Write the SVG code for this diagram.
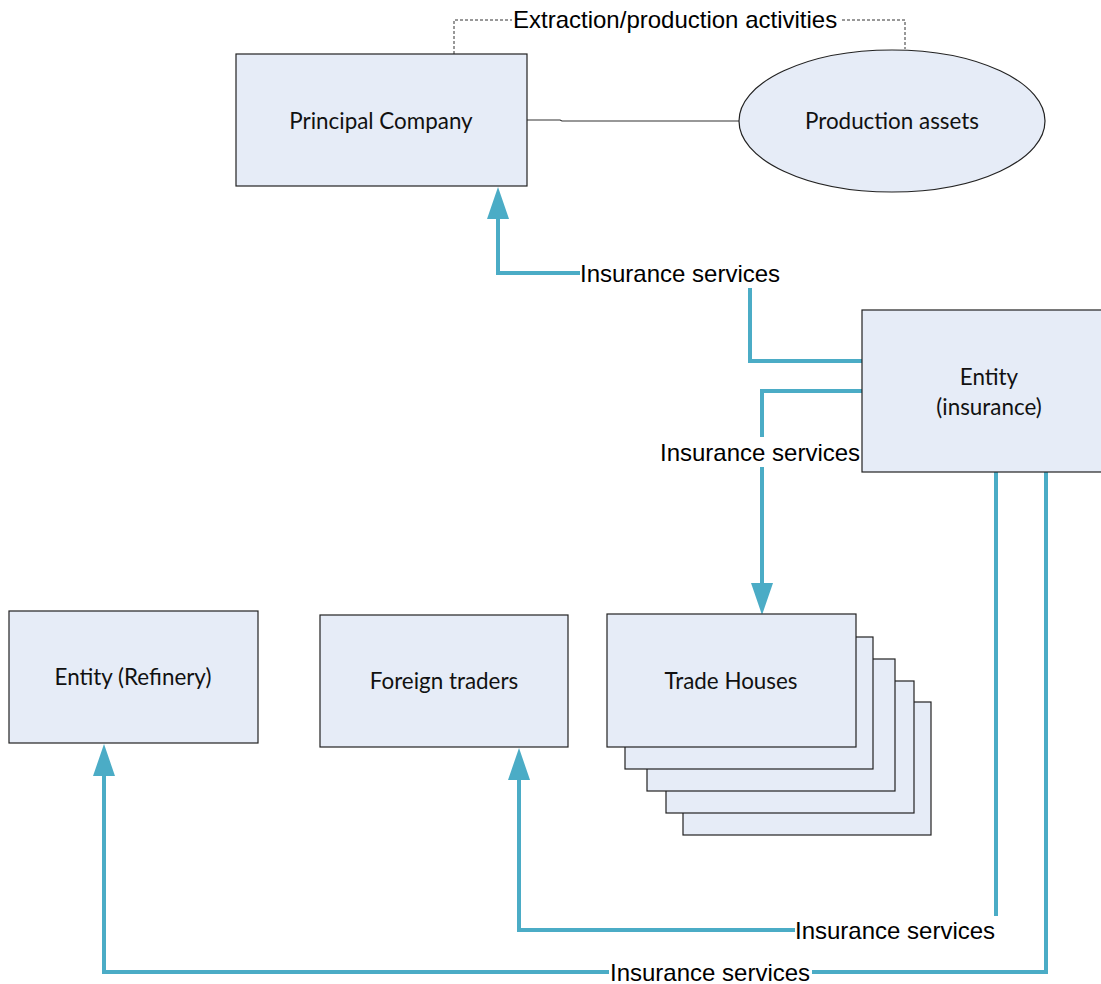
<svg xmlns="http://www.w3.org/2000/svg" width="1101" height="984" viewBox="0 0 1101 984">
<style>
.box{fill:#E6ECF7;stroke:#222;stroke-width:1.2}
.node{font-family:Lato,"Open Sans",sans-serif;font-size:22.4px;fill:#111;text-anchor:middle;dominant-baseline:central}
.lbl{font-family:"Liberation Sans",Arial,sans-serif;font-size:24px;fill:#000;dominant-baseline:central}
.conn{fill:none;stroke:#4BACC6;stroke-width:4;stroke-linejoin:miter}
.thin{fill:none;stroke:#333;stroke-width:1.2}
.dash{fill:none;stroke:#333;stroke-width:1;stroke-dasharray:3 2}
</style>
<defs>
<marker id="arr" viewBox="0 0 32 22" refX="0" refY="11" markerWidth="32" markerHeight="22" markerUnits="userSpaceOnUse" orient="auto">
<path d="M0,0 L32,11 L0,22 z" fill="#4BACC6"/>
</marker>
</defs>
<rect width="1101" height="984" fill="#fff"/>
<g id="connectors">
<path class="dash" d="M454,54 V20 H512"/>
<path class="dash" d="M842,20 H905 V49"/>
<text class="lbl" x="513" y="19">Extraction/production activities</text>
<path class="thin" d="M527,120 H560 L562,121 H739"/>
<path class="conn" d="M862,361 H750 V288"/>
<path class="conn" d="M580,273 H498 V219" marker-end="url(#arr)"/>
<text class="lbl" x="580" y="273">Insurance services</text>
<path class="conn" d="M862,391 H762 V437"/>
<path class="conn" d="M762,467 V583" marker-end="url(#arr)"/>
<text class="lbl" x="660" y="452">Insurance services</text>
<path class="conn" d="M996,472 V916"/>
<path class="conn" d="M795,930 H519 V780" marker-end="url(#arr)"/>
<text class="lbl" x="795" y="930">Insurance services</text>
<path class="conn" d="M1046,472 V972 H812"/>
<path class="conn" d="M609,972 H104 V776" marker-end="url(#arr)"/>
<text class="lbl" x="610" y="972">Insurance services</text>
</g>
<g id="principal">
<rect class="box" x="236" y="54" width="291" height="132"/>
<text class="node" x="381" y="120">Principal Company</text>
</g>
<g id="production">
<ellipse class="box" cx="892" cy="121" rx="153" ry="71"/>
<text class="node" x="892" y="120">Production assets</text>
</g>
<g id="insurance">
<rect class="box" x="862" y="310" width="254" height="162"/>
<text class="node" x="989" y="376">Entity</text>
<text class="node" x="989" y="406">(insurance)</text>
</g>
<g id="refinery">
<rect class="box" x="9" y="611" width="249" height="132"/>
<text class="node" x="133" y="676">Entity (Refinery)</text>
</g>
<g id="foreign">
<rect class="box" x="320" y="615" width="248" height="132"/>
<text class="node" x="444" y="680">Foreign traders</text>
</g>
<g id="trade">
<rect class="box" x="683" y="702" width="248" height="133"/>
<rect class="box" x="666" y="681" width="248" height="132"/>
<rect class="box" x="647" y="659" width="248" height="132"/>
<rect class="box" x="625" y="637" width="248" height="132"/>
<rect class="box" x="607" y="614" width="249" height="133"/>
<text class="node" x="731" y="680">Trade Houses</text>
</g>
</svg>
